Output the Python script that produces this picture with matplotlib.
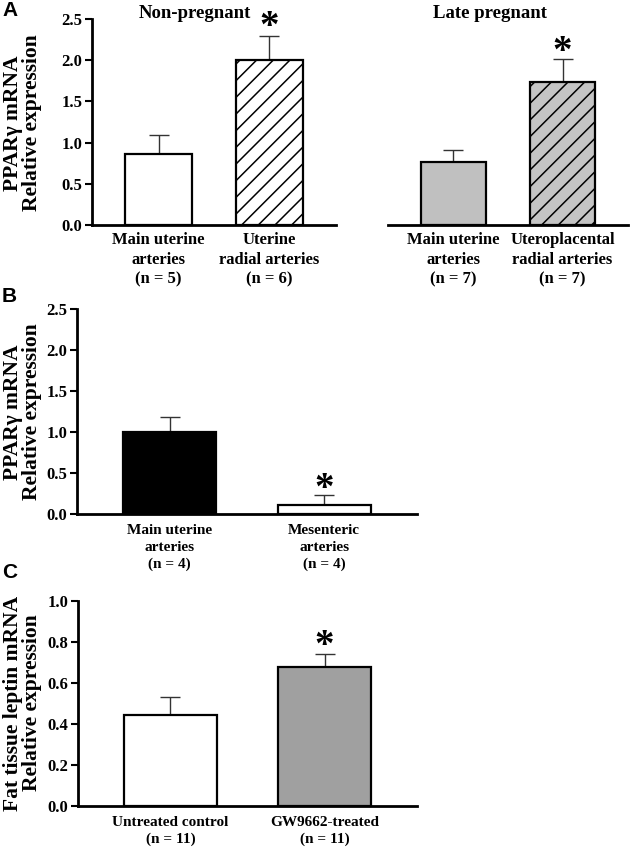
import numpy as np
import matplotlib
matplotlib.use('Agg')
import matplotlib.pyplot as plt
from matplotlib.ticker import FormatStrFormatter

plt.rcParams['font.family'] = ['Liberation Serif', 'DejaVu Serif']
plt.rcParams['font.weight'] = 'bold'
plt.rcParams['hatch.linewidth'] = 1.1

# panel A, non-pregnant
a_np_labels = ['Main uterine\narteries\n(n = 5)', 'Uterine\nradial arteries\n(n = 6)']
a_np_means = [0.86, 2.00]
a_np_err = [0.23, 0.29]
# panel A, late pregnant
a_lp_labels = ['Main uterine\narteries\n(n = 7)', 'Uteroplacental\nradial arteries\n(n = 7)']
a_lp_means = [0.76, 1.73]
a_lp_err = [0.15, 0.29]
# panel B
b_labels = ['Main uterine\narteries\n(n = 4)', 'Mesenteric\narteries\n(n = 4)']
b_means = [1.00, 0.11]
b_err = [0.18, 0.12]
# panel C
c_labels = ['Untreated control\n(n = 11)', 'GW9662-treated\n(n = 11)']
c_means = [0.444, 0.678]
c_err = [0.087, 0.063]

W, H = 634, 852
fig = plt.figure(figsize=(W / 100, H / 100), dpi=100)


def box(x0, x1, ytop, ybot):
    return [x0 / W, 1 - ybot / H, (x1 - x0) / W, (ybot - ytop) / H]


def panel(ax, means, err, labels, colors, hatches, ymax, step, star,
          show_y=True, lab_size=12, lab_space=1.2, lab_pad=5, star_off=-6):
    x = np.arange(len(means))
    bars = ax.bar(x, means, width=0.6, color=colors, edgecolor='black',
                  linewidth=1.6, zorder=2)
    for b, h in zip(bars, hatches):
        if h:
            b.set_hatch(h)
    ax.errorbar(x, means, yerr=[np.zeros(len(means)), err], fmt='none',
                ecolor='#333333', elinewidth=1.0, capsize=7.5, capthick=1.0, zorder=1)
    for i in star:
        ax.annotate('*', (x[i], means[i] + err[i]), xytext=(0, star_off),
                    textcoords='offset points', ha='center', va='bottom',
                    fontsize=28, fontweight='bold')
    ax.set_xlim(-0.6, 1.6)
    ax.set_ylim(0, ymax)
    ax.set_xticks(x)
    ax.set_xticklabels(labels, fontsize=lab_size, linespacing=lab_space)
    ax.tick_params(axis='x', length=0, pad=lab_pad)
    for s in ['top', 'right']:
        ax.spines[s].set_visible(False)
    ax.spines['bottom'].set_linewidth(2)
    ax.spines['left'].set_linewidth(2)
    if show_y:
        ax.set_yticks(np.arange(0, ymax + 1e-9, step))
        ax.yaxis.set_major_formatter(FormatStrFormatter('%.1f'))
        ax.tick_params(axis='y', direction='out', length=5, width=1.5,
                       labelsize=12, pad=2)
    else:
        ax.spines['left'].set_visible(False)
        ax.set_yticks([])


# panel A
ax1 = fig.add_axes(box(92, 336, 19, 225))
panel(ax1, a_np_means, a_np_err, a_np_labels, ['white', 'white'], [None, '//'],
      2.5, 0.5, [1], lab_space=1.3, star_off=-7)
ax2 = fig.add_axes(box(388, 628, 19, 225))
panel(ax2, a_lp_means, a_lp_err, a_lp_labels, ['#c0c0c0', '#c4c4c4'], [None, '//'],
      2.5, 0.5, [1], show_y=False, lab_space=1.3, star_off=-9)
fig.text(195 / W, 1 - 14 / H, 'Non-pregnant', ha='center', va='center', fontsize=13.5)
fig.text(490 / W, 1 - 14 / H, 'Late pregnant', ha='center', va='center', fontsize=13.5)
fig.text(22.5 / W, 1 - 123 / H, 'PPARγ mRNA\nRelative expression', rotation=90,
         ha='center', va='center', fontsize=15.5, linespacing=0.95)

# panel B
ax3 = fig.add_axes(box(77, 417, 309, 514))
panel(ax3, b_means, b_err, b_labels, ['black', 'white'], [None, None],
      2.5, 0.5, [1], lab_size=11, lab_space=1.4, lab_pad=7, star_off=-9)
fig.text(22.5 / W, 1 - 412 / H, 'PPARγ mRNA\nRelative expression', rotation=90,
         ha='center', va='center', fontsize=15.5, linespacing=0.95)

# panel C
ax4 = fig.add_axes(box(78, 417, 601, 806))
panel(ax4, c_means, c_err, c_labels, ['white', '#a0a0a0'], [None, None],
      1.0, 0.2, [1], lab_size=11, lab_space=1.4, lab_pad=7, star_off=-8)
fig.text(22.5 / W, 1 - 703 / H, 'Fat tissue leptin mRNA\nRelative expression', rotation=90,
         ha='center', va='center', fontsize=15.5, linespacing=0.95)

# panel letters
for lab, yy in [('A', 11), ('B', 296), ('C', 572)]:
    fig.text(2 / W, 1 - yy / H, lab, ha='left', va='center', fontsize=15,
             fontweight='bold', family=['Liberation Sans', 'DejaVu Sans'])

fig.savefig('out.png', dpi=100)
